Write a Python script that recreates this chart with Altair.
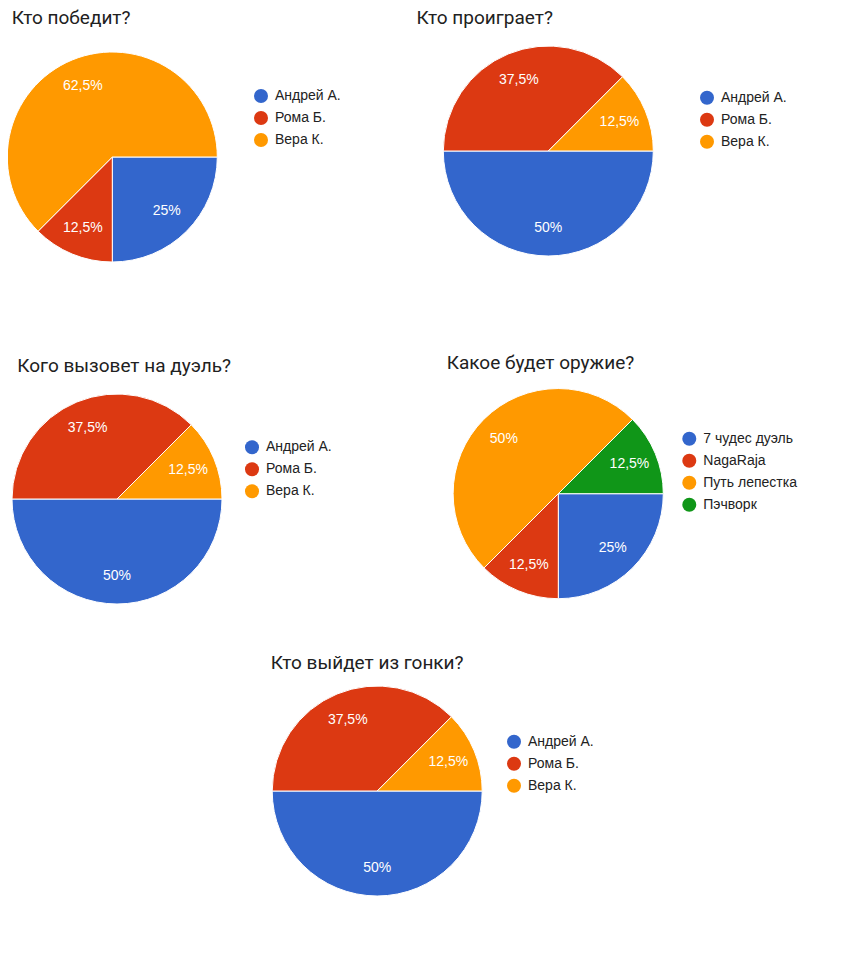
import math
import altair as alt
import pandas as pd

# ---- data ----
titles = ["Кто победит?", "Кто проиграет?", "Кого вызовет на дуэль?",
          "Какое будет оружие?", "Кто выйдет из гонки?"]

people = ["Андрей А.", "Рома Б.", "Вера К."]
weapons = ["7 чудес дуэль", "NagaRaja", "Путь лепестка", "Пэчворк"]

win_counts = [2, 1, 5]
win_labels = ["25%", "12,5%", "62,5%"]
lose_counts = [4, 3, 1]
lose_labels = ["50%", "37,5%", "12,5%"]
duel_counts = [4, 3, 1]
duel_labels = ["50%", "37,5%", "12,5%"]
weapon_counts = [2, 1, 4, 1]
weapon_labels = ["25%", "12,5%", "50%", "12,5%"]
race_counts = [4, 3, 1]
race_labels = ["50%", "37,5%", "12,5%"]

palette = ["#3366CC", "#DC3912", "#FF9900", "#109618"]

# ---- layout (chart coordinates) ----
R = 105
LABEL_R = 77
pies = [
    dict(title=titles[0], names=people, counts=win_counts, labels=win_labels,
         c=(104.3, 149), t=(3.7, 16), lg=(246, 81)),
    dict(title=titles[1], names=people, counts=lose_counts, labels=lose_labels,
         c=(540.3, 143), t=(408.5, 16), lg=(692, 82.7)),
    dict(title=titles[2], names=people, counts=duel_counts, labels=duel_labels,
         c=(109, 491), t=(9.3, 363.7), lg=(237, 432.3)),
    dict(title=titles[3], names=weapons, counts=weapon_counts, labels=weapon_labels,
         c=(550.3, 485.7), t=(438.7, 361.3), lg=(674.3, 423.7)),
    dict(title=titles[4], names=people, counts=race_counts, labels=race_labels,
         c=(369.2, 783), t=(262.7, 661.3), lg=(499, 726.7)),
]

start = math.pi / 2
theta_scale = alt.Scale(range=[start, start + 2 * math.pi])

layers = []
for i, p in enumerate(pies):
    df = pd.DataFrame({
        "name": p["names"],
        "value": p["counts"],
        "label": p["labels"],
        "idx": list(range(len(p["names"]))),
    })
    base = alt.Chart(df)
    theta = alt.Theta("value:Q", stack=True, scale=theta_scale)
    arc = base.mark_arc(radius=R, stroke="white", strokeWidth=1).encode(
        theta=theta,
        order=alt.Order("idx:Q"),
        color=alt.Color(
            "name:N",
            scale=alt.Scale(domain=p["names"], range=palette[:len(p["names"])]),
            legend=alt.Legend(
                orient="none", legendX=p["lg"][0], legendY=p["lg"][1],
                title=None, symbolType="circle", symbolSize=196,
                symbolStrokeWidth=0, labelFontSize=14,
                labelFont="Liberation Sans", labelColor="#222222",
                rowPadding=8, labelOffset=7, padding=0,
            ),
        ),
        x=alt.value(p["c"][0]),
        y=alt.value(p["c"][1]),
    )
    txt = base.mark_text(radius=LABEL_R, fill="white", fontSize=14,
                         font="Liberation Sans", baseline="middle",
                         align="center").encode(
        theta=theta,
        order=alt.Order("idx:Q"),
        text="label:N",
        x=alt.value(p["c"][0]),
        y=alt.value(p["c"][1]),
    )
    ttl = alt.Chart(alt.Data(values=[{"t": p["title"]}])).mark_text(
        align="left", baseline="alphabetic", fontSize=19, font="Roboto",
        color="#212121",
    ).encode(text="t:N", x=alt.value(p["t"][0]), y=alt.value(p["t"][1]))
    layers += [arc, txt, ttl]

chart = alt.layer(*layers).resolve_scale(
    color="independent", theta="independent"
).properties(
    width=841, height=944, autosize=alt.AutoSizeParams(type="none"), padding=0
).configure_view(stroke=None)

chart.save("out.html", embed_options={"renderer": "svg", "actions": False})
